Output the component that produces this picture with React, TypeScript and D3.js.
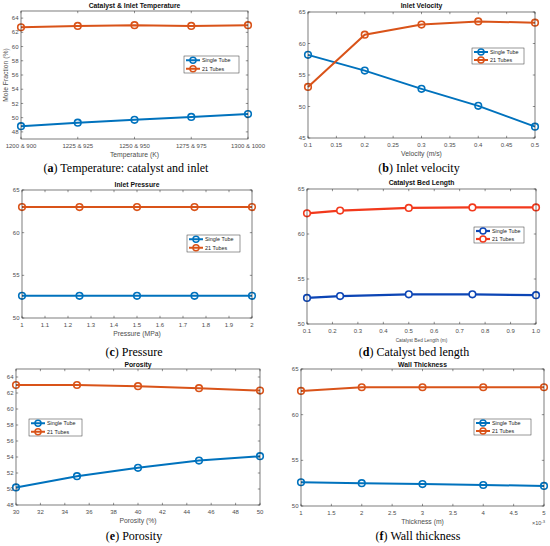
import React from "react";
import * as d3 from "d3";

// ---- data ----
const tempLabels = ["1200 & 900", "1225 & 925", "1250 & 950", "1275 & 975", "1300 & 1000"];
const tempSingle = [48.8, 49.3, 49.7, 50.1, 50.5];
const tempTubes = [62.7, 62.9, 63.0, 62.9, 63.0];

const velocity = [0.1, 0.2, 0.3, 0.4, 0.5];
const velSingle = [58.2, 55.7, 52.8, 50.1, 46.8];
const velTubes = [53.1, 61.4, 63.0, 63.5, 63.3];

const pressure = [1, 1.25, 1.5, 1.75, 2];
const presSingle = [52.6, 52.6, 52.6, 52.6, 52.6];
const presTubes = [63.0, 63.0, 63.0, 63.0, 63.0];

const bedLength = [0.1, 0.23, 0.5, 0.75, 1.0];
const bedSingle = [52.9, 53.1, 53.3, 53.3, 53.2];
const bedTubes = [62.3, 62.6, 62.9, 62.95, 62.95];

const porosity = [30, 35, 40, 45, 50];
const porSingle = [50.2, 51.6, 52.65, 53.55, 54.1];
const porTubes = [63.0, 63.0, 62.85, 62.6, 62.3];

const thickness = [1, 2, 3, 4, 5]; // x 10^-3 m
const thkSingle = [52.6, 52.5, 52.4, 52.3, 52.2];
const thkTubes = [62.6, 63.0, 63.0, 63.0, 63.0];

const seriesNames = ["Single Tube", "21 Tubes"];

const BLUE = "#0072bd";
const ORANGE = "#d95319";
const AXIS = "#262626";
const TICKTEXT = "#4d4d4d";
const SANS = "Liberation Sans, Arial, sans-serif";
const SERIF = "Liberation Serif, DejaVu Serif, serif";

interface PanelProps {
  box: [number, number, number, number]; // x0, y0, x1, y1
  x: number[];
  single: number[];
  tubes: number[];
  xDomain: [number, number];
  xTicks: number[];
  xFormat: (v: number, i: number) => string;
  yDomain: [number, number];
  yTicks: number[];
  title: string;
  titleY: number;
  xLabel: string;
  xLabelSize?: number;
  letter: string;
  caption: string;
  captionX: number;
  captionY: number;
  legend: [number, number, number, number];
  colors?: [string, string];
  filled?: boolean;
  lineWidth?: number;
  yLabel?: string;
  exponent?: boolean;
}

function Panel(p: PanelProps) {
  const [x0, y0, x1, y1] = p.box;
  const xs = d3.scaleLinear().domain(p.xDomain).range([x0, x1]);
  const ys = d3.scaleLinear().domain(p.yDomain).range([y1, y0]);
  const colors = p.colors ?? [BLUE, ORANGE];
  const lw = p.lineWidth ?? 2;
  const line = d3
    .line<[number, number]>()
    .x((d) => xs(d[0]))
    .y((d) => ys(d[1]));
  const series = [p.single, p.tubes];
  const tl = 2.2;
  const [lx0, ly0, lx1, ly1] = p.legend;
  const rowH = (ly1 - ly0) / 2;

  return (
    <g>
      <rect x={x0} y={y0} width={x1 - x0} height={y1 - y0} fill="#fff" />
      {series.map((s, si) => (
        <g key={si}>
          <path
            d={line(p.x.map((v, i) => [v, s[i]] as [number, number])) ?? ""}
            fill="none"
            stroke={colors[si]}
            strokeWidth={lw}
          />
          {p.x.map((v, i) => (
            <circle
              key={i}
              cx={xs(v)}
              cy={ys(s[i])}
              r={3.3}
              fill={p.filled ? "#fff" : "none"}
              stroke={colors[si]}
              strokeWidth={1.6}
            />
          ))}
        </g>
      ))}
      <rect x={x0} y={y0} width={x1 - x0} height={y1 - y0} fill="none" stroke={AXIS} strokeWidth={0.6} />
      {p.xTicks.map((t, i) => (
        <g key={"x" + i}>
          <line x1={xs(t)} x2={xs(t)} y1={y1} y2={y1 - tl} stroke={AXIS} strokeWidth={0.5} />
          <line x1={xs(t)} x2={xs(t)} y1={y0} y2={y0 + tl} stroke={AXIS} strokeWidth={0.5} />
          <text x={xs(t)} y={y1 + 8.5} textAnchor="middle" fontSize={6} fontFamily={SANS} fill={TICKTEXT}>
            {p.xFormat(t, i)}
          </text>
        </g>
      ))}
      {p.yTicks.map((t, i) => (
        <g key={"y" + i}>
          <line x1={x0} x2={x0 + tl} y1={ys(t)} y2={ys(t)} stroke={AXIS} strokeWidth={0.5} />
          <line x1={x1} x2={x1 - tl} y1={ys(t)} y2={ys(t)} stroke={AXIS} strokeWidth={0.5} />
          <text x={x0 - 2.5} y={ys(t) + 2.1} textAnchor="end" fontSize={6} fontFamily={SANS} fill={TICKTEXT}>
            {t}
          </text>
        </g>
      ))}
      <text x={(x0 + x1) / 2} y={p.titleY} textAnchor="middle" fontSize={6.8} fontWeight="bold" fontFamily={SANS} fill="#111">
        {p.title}
      </text>
      <text
        x={(x0 + x1) / 2}
        y={y1 + 17.5}
        textAnchor="middle"
        fontSize={p.xLabelSize ?? 6.8}
        fontFamily={SANS}
        fill={TICKTEXT}
      >
        {p.xLabel}
      </text>
      {p.yLabel && (
        <text
          transform={`translate(${x0 - 13},${(y0 + y1) / 2}) rotate(-90)`}
          textAnchor="middle"
          fontSize={6.8}
          fontFamily={SANS}
          fill={TICKTEXT}
        >
          {p.yLabel}
        </text>
      )}
      {p.exponent && (
        <text x={x1 - 12} y={y1 + 19} fontSize={5.5} fontFamily={SANS} fill={TICKTEXT}>
          ×10<tspan dy={-2.5} fontSize={4.2}>-3</tspan>
        </text>
      )}
      <g>
        <rect x={lx0} y={ly0} width={lx1 - lx0} height={ly1 - ly0} fill="#fff" stroke="#333" strokeWidth={0.5} />
        {seriesNames.map((n, i) => {
          const cy = ly0 + rowH * (i + 0.5);
          return (
            <g key={n}>
              <line x1={lx0 + 2} x2={lx0 + 16} y1={cy} y2={cy} stroke={colors[i]} strokeWidth={lw} />
              <circle cx={lx0 + 9} cy={cy} r={3} fill={p.filled ? "#fff" : "none"} stroke={colors[i]} strokeWidth={1.5} />
              <text x={lx0 + 18} y={cy + 2} fontSize={5.4} fontFamily={SANS} fill="#222">
                {n}
              </text>
            </g>
          );
        })}
      </g>
      <text x={p.captionX} y={p.captionY} textAnchor="middle" fontSize={12} fontFamily={SERIF} fill="#000">
        (<tspan fontWeight="bold">{p.letter}</tspan>) {p.caption}
      </text>
    </g>
  );
}

const range = (a: number, b: number, s: number) => d3.range(a, b + s / 2, s).map((v) => +v.toFixed(3));

export default function App() {
  return (
    <svg width={550} height={546} style={{ position: "absolute", left: 0, top: 0, background: "#fff" }}>
      <Panel
        box={[21, 11, 248, 139]}
        x={[0, 1, 2, 3, 4]}
        single={tempSingle}
        tubes={tempTubes}
        xDomain={[0, 4]}
        xTicks={[0, 1, 2, 3, 4]}
        xFormat={(_, i) => tempLabels[i]}
        yDomain={[47, 65]}
        yTicks={range(48, 64, 2)}
        title="Catalyst & Inlet Temperature"
        titleY={8}
        xLabel="Temperature (K)"
        letter="a"
        caption="Temperature: catalyst and inlet"
        captionX={126}
        captionY={172}
        legend={[184, 56, 239, 73]}
        yLabel="Mole Fraction (%)"
      />
      <Panel
        box={[308, 12, 535, 138]}
        x={velocity}
        single={velSingle}
        tubes={velTubes}
        xDomain={[0.1, 0.5]}
        xTicks={range(0.1, 0.5, 0.05)}
        xFormat={(v) => String(v)}
        yDomain={[45, 65]}
        yTicks={range(45, 65, 5)}
        title="Inlet Velocity"
        titleY={8}
        xLabel="Velocity (m/s)"
        letter="b"
        caption="Inlet velocity"
        captionX={419}
        captionY={172}
        legend={[472, 48, 524, 64]}
      />
      <Panel
        box={[22, 190, 252, 318]}
        x={pressure}
        single={presSingle}
        tubes={presTubes}
        xDomain={[1, 2]}
        xTicks={range(1, 2, 0.1)}
        xFormat={(v) => String(v)}
        yDomain={[50, 65]}
        yTicks={range(50, 65, 5)}
        title="Inlet Pressure"
        titleY={187}
        xLabel="Pressure (MPa)"
        letter="c"
        caption="Pressure"
        captionX={134}
        captionY={356}
        legend={[187, 235, 240, 252]}
      />
      <Panel
        box={[307, 189, 536, 324]}
        x={bedLength}
        single={bedSingle}
        tubes={bedTubes}
        xDomain={[0.1, 1.0]}
        xTicks={range(0.1, 1.0, 0.1)}
        xFormat={(v) => d3.format(".1f")(v)}
        yDomain={[50, 65]}
        yTicks={range(50, 65, 5)}
        title="Catalyst Bed Length"
        titleY={185}
        xLabel="Catalyst Bed Length (m)"
        xLabelSize={4.8}
        letter="d"
        caption="Catalyst bed length"
        captionX={414}
        captionY={356}
        legend={[474, 227, 524, 243]}
        colors={["#0c45b5", "#f2391c"]}
        filled
        lineWidth={2.2}
      />
      <Panel
        box={[16, 369, 260, 505]}
        x={porosity}
        single={porSingle}
        tubes={porTubes}
        xDomain={[30, 50]}
        xTicks={range(30, 50, 2)}
        xFormat={(v) => String(v)}
        yDomain={[48, 65]}
        yTicks={range(48, 64, 2)}
        title="Porosity"
        titleY={367}
        xLabel="Porosity (%)"
        letter="e"
        caption="Porosity"
        captionX={134}
        captionY={540}
        legend={[29, 419, 82, 436]}
      />
      <Panel
        box={[301, 369, 544, 506]}
        x={thickness}
        single={thkSingle}
        tubes={thkTubes}
        xDomain={[1, 5]}
        xTicks={range(1, 5, 0.5)}
        xFormat={(v) => String(v)}
        yDomain={[50, 65]}
        yTicks={range(50, 65, 5)}
        title="Wall Thickness"
        titleY={367}
        xLabel="Thickness (m)"
        letter="f"
        caption="Wall thickness"
        captionX={418}
        captionY={540}
        legend={[474, 419, 531, 435]}
        exponent
      />
    </svg>
  );
}
